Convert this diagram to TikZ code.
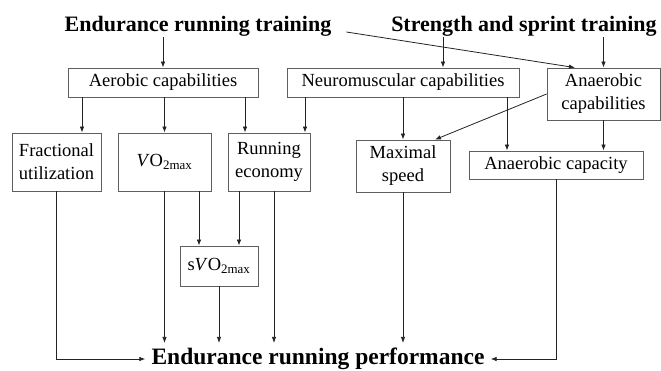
\documentclass[tikz,border=0pt]{standalone}
\usepackage{fontspec}
\setmainfont{Liberation Serif}
\usetikzlibrary{arrows.meta}
\definecolor{boxgray}{RGB}{95,95,95}
\definecolor{linegray}{RGB}{35,35,35}

\begin{document}
\begin{tikzpicture}[x=1pt,y=-1pt,>={Latex[length=6pt,width=4.5pt]}]
  \tikzset{b/.style={draw=boxgray,line width=0.8pt,inner sep=0pt,align=center,font=\fontsize{18.5}{23}\selectfont}}
  \tikzset{t/.style={inner sep=0pt,font=\fontsize{22}{24}\selectfont\bfseries}}
  \tikzset{l/.style={->,draw=linegray,line width=0.8pt}}
  \useasboundingbox (0,0) rectangle (661,371);
  % training
  \node[t] (endu) at (198,26.5) {Endurance running training};
  \node[t] (stren) at (524,26.5) {Strength and sprint training};
  % capabilities
  \node[b,minimum width=190pt,minimum height=29pt] (aero) at (163,82.5) {Aerobic capabilities};
  \node[b,minimum width=232pt,minimum height=29pt] (neuro) at (403,82.5) {Neuromuscular capabilities};
  \node[b,minimum width=113pt,minimum height=52pt] (anaer) at (603.5,94) {Anaerobic\\capabilities};
  % factors
  \node[b,minimum width=89pt,minimum height=58pt] (frac) at (56.5,162) {Fractional\\utilization};
  \node[b,minimum width=93pt,minimum height=58pt] (vo) at (164.5,162) {\textit{V}O\textsubscript{2max}};
  \node[b,minimum width=82pt,minimum height=58pt] (econ) at (269,162) {Running\\economy};
  \node[b,minimum width=94pt,minimum height=52pt] (speed) at (403,166) {Maximal\\speed};
  \node[b,minimum width=174pt,minimum height=28pt] (acap) at (556,165) {Anaerobic capacity};
  \node[b,minimum width=78pt,minimum height=40pt] (svo) at (219,266) {s\textit{V}O\textsubscript{2max}};
  \node[t,inner xsep=6pt,inner ysep=5pt,font=\fontsize{23.5}{25}\selectfont\bfseries] (perf) at (318,359) {Endurance running performance};
  % arrows
  \draw[l] (endu.south -| aero.north) -- (aero.north);
  \draw[l] ([xshift=15pt,yshift=-5.5pt]endu.east) -- (anaer.north -| 575,0);
  \draw[l] (stren.south -| 443,0) -- (neuro.north -| 443,0);
  \draw[l] (stren.south -| anaer.north) -- (anaer.north);
  \draw[l] (aero.south -| 82,0) -- (frac.north -| 82,0);
  \draw[l] (aero.south -| vo.north) -- (vo.north);
  \draw[l] (aero.south -| 245,0) -- (econ.north -| 245,0);
  \draw[l] (neuro.south -| 305,0) -- (econ.north -| 305,0);
  \draw[l] (neuro.south -| speed.north) -- (speed.north);
  \draw[l] (neuro.south -| 507,0) -- (acap.north -| 507,0);
  \draw[l] (anaer.west) -- (speed.north -| 435,0);
  \draw[l] (anaer.south) -- (acap.north -| anaer.south);
  \draw[l] (vo.south -| 199,0) -- (svo.north -| 199,0);
  \draw[l] (econ.south -| 239,0) -- (svo.north -| 239,0);
  \draw[l] (frac.south) |- (perf.west);
  \draw[l] (vo.south) -- (vo.south |- perf.north);
  \draw[l] (svo.south) -- (svo.south |- perf.north);
  \draw[l] (econ.south -| 274,0) -- (perf.north -| 274,0);
  \draw[l] (speed.south) -- (speed.south |- perf.north);
  \draw[l] (acap.south) |- (perf.east);
\end{tikzpicture}
\end{document}
